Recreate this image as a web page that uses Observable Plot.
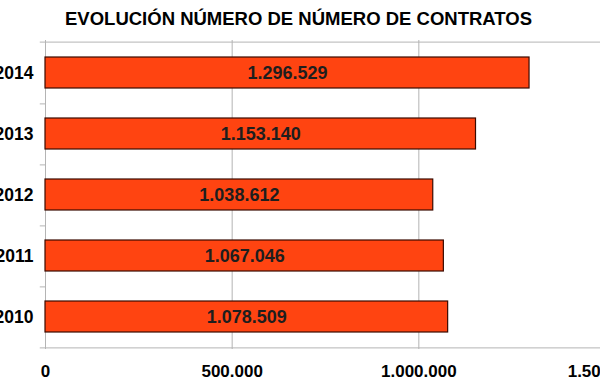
<!DOCTYPE html>
<html><head><meta charset="utf-8">
<script src="https://cdn.jsdelivr.net/npm/d3@7"></script>
<script src="https://cdn.jsdelivr.net/npm/@observablehq/plot@0.6"></script>
<style>body{margin:0;background:#fff;font-family:"Liberation Sans",Arial,sans-serif;}</style>
</head><body><div id="chart"></div>
<script>
const years = ["2014","2013","2012","2011","2010"];
const contratos = [1296529, 1153140, 1038612, 1067046, 1078509];
const xTicks = [0, 500000, 1000000, 1500000];
const chartTitle = "EVOLUCIÓN NÚMERO DE NÚMERO DE CONTRATOS";

const es = d3.formatLocale({decimal: ",", thousands: ".", grouping: [3], currency: ["", " €"]});
const fmt = es.format(",d");
const data = years.map((y, i) => ({year: y, value: contratos[i]}));

const plotTop = 40, plotBottom = 349, band = (plotBottom - plotTop) / years.length;
const chart = Plot.plot({
  width: 600, height: 383,
  marginLeft: 45, marginTop: plotTop, marginBottom: 383 - plotBottom, marginRight: 0,
  style: {fontFamily: "'Liberation Sans', Arial, sans-serif", background: "#fff"},
  x: {domain: [0, 1500000], range: [45, 605], axis: null},
  y: {domain: years, paddingInner: 0.5, paddingOuter: 0.25, axis: null},
  marks: [
    Plot.ruleX(xTicks.slice(1), {stroke: "#b4b4b4", strokeOpacity: 1}),
    Plot.ruleY([years[0]], {dy: -band/2, x1: -14000, x2: 1600000, stroke: "#b4b4b4"}),
    Plot.ruleY(years, {dy: band/2, x1: -14000, x2: 0, stroke: "#b4b4b4"}),
    Plot.ruleY([years[years.length-1]], {dy: band/2, x1: 0, x2: 1600000, stroke: "#b4b4b4"}),
    Plot.ruleX([0], {stroke: "#b4b4b4"}),
    Plot.barX(data, {y: "year", x: "value", fill: "#ff4411", stroke: "#3a0a00", strokeWidth: 1.2}),
    Plot.text(data, {y: "year", x: d => d.value / 2, text: d => fmt(d.value), fill: "#1e1e1e", fontSize: 18, fontWeight: "bold"}),
    Plot.axisY({tickSize: 0, tickPadding: 12, fontSize: 17.5, fontWeight: "bold", fill: "#000", label: null}),
    Plot.text(xTicks, {x: d => d, frameAnchor: "bottom", lineAnchor: "middle", dy: 22, text: d => fmt(d), fontSize: 17, fontWeight: "bold", fill: "#000"}),
    Plot.text([chartTitle], {frameAnchor: "top-left", lineAnchor: "middle", textAnchor: "middle", dx: 253, dy: -21, text: d => d, fontSize: 18.5, fontWeight: "bold", fill: "#000"})
  ]
});
document.getElementById("chart").appendChild(chart);
</script></body></html>
